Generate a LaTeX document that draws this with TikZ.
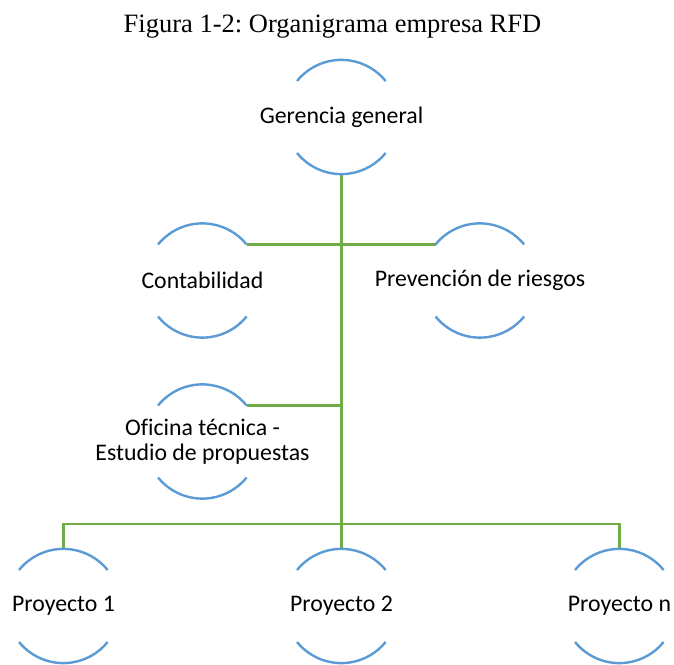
\documentclass[tikz,border=0pt]{standalone}
\usepackage{fontspec}
\setmainfont[Ligatures=NoCommon]{Carlito}
\newfontfamily\titlefont{Liberation Serif}
\frenchspacing
\begin{document}
\begin{tikzpicture}[x=1pt,y=1pt,
  unit/.style={circle,minimum size=114pt,inner sep=0pt,draw=none},
  lbl/.style={inner sep=0pt,font=\fontsize{23.8}{25}\selectfont,text=black,align=center},
  arcline/.style={draw={rgb,255:red,91;green,155;blue,213},line width=2.4pt},
  conn/.style={draw={rgb,255:red,112;green,173;blue,71},line width=2.4pt}]
\useasboundingbox (0,0) rectangle (674,664);
\node[font=\titlefont\fontsize{26.5}{30}\selectfont,inner sep=0pt] (title) at (332.5,637) {Figura 1-2: Organigrama empresa RFD};
\node[unit,label={[lbl]center:Gerencia general}] (g) at (341.5,547) {};
\node[unit,label={[lbl]center:Contabilidad}] (c) at (202.5,383.5) {};
\node[unit,label={[lbl]center:Prevención de riesgos}] (p) at (480,383.5) {};
\node[unit,label={[lbl]center:{Oficina técnica -\\Estudio de propuestas}}] (o) at (202.5,222.5) {};
\node[unit,label={[lbl]center:Proyecto 1}] (p1) at (63.5,58) {};
\node[unit,label={[lbl]center:Proyecto 2}] (p2) at (341.5,58) {};
\node[unit,label={[lbl]center:Proyecto n}] (pn) at (619.5,58) {};
\coordinate (bus) at (341.5,140);
% connectors
\draw[conn] (g.south) -- (p2.north);
\draw[conn] (c.39) -- (p.141);
\draw[conn] (o.39) -- (o.39 -| g.south);
\draw[conn] (p1.north) |- (bus) -| (pn.north);
% arcs
\foreach \n in {g,c,p,o,p1,p2,pn}{
  \draw[arcline] (\n.141) arc[start angle=141,end angle=39,radius=57pt];
  \draw[arcline] (\n.219) arc[start angle=219,end angle=321,radius=57pt];
}
\end{tikzpicture}
\end{document}
